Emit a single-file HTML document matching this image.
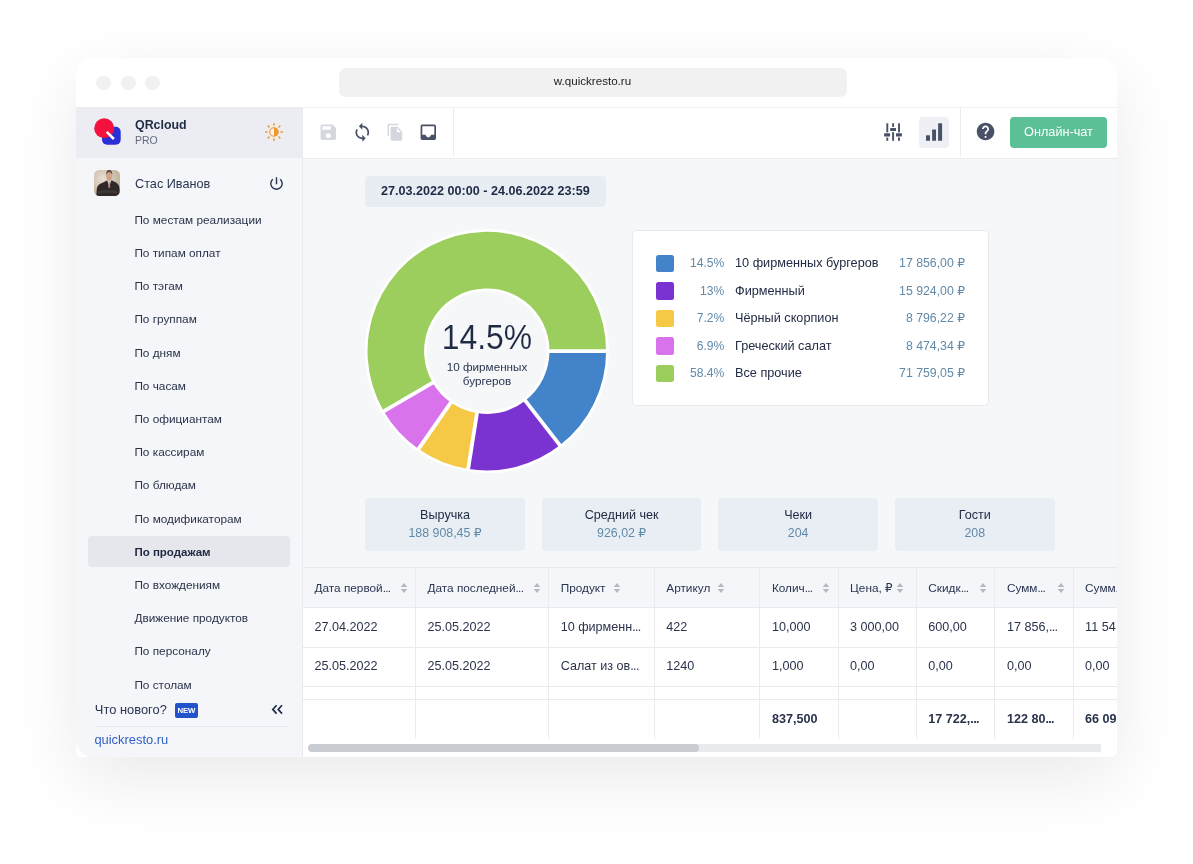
<!DOCTYPE html>
<html lang="ru">
<head>
<meta charset="utf-8">
<title>QRcloud</title>
<style>
*{box-sizing:border-box;margin:0;padding:0}
html,body{width:1193px;height:864px;overflow:hidden;background:#fff;font-family:"Liberation Sans","DejaVu Sans",sans-serif;color:#1f2a44}
#shadow{position:absolute;left:76px;top:58px;width:1041px;height:699px;border-radius:18px 18px 6px 6px;box-shadow:0 22px 70px rgba(0,0,0,.085)}
#win{position:absolute;left:76px;top:58px;width:1041px;height:699px;background:#fff;border-radius:18px 18px 6px 6px;overflow:hidden}
#pg{position:absolute;left:-76px;top:-58px;width:1193px;height:864px}
#pg div,#pg svg,#pg span{position:absolute}
.dot{top:75.5px;width:14.5px;height:14.5px;border-radius:50%;background:#f1f1f1}
.t{white-space:nowrap;line-height:1}
.mi{left:134.4px;font-size:11.8px;color:#2b3349;white-space:nowrap;line-height:14px;height:14px}
.sb{color:#6189a8}
.hc{font-size:11.8px;color:#2a3550;white-space:nowrap;line-height:14px}
.tc{font-size:12.6px;color:#2a334c;white-space:nowrap;line-height:14px}
.vl{width:1px;background:#e9ebee}
.hl{height:1px;background:#e9ebee}
</style>
</head>
<body>
<div id="shadow"></div>
<div id="win"><div id="pg">

<div class="dot" style="left:96.2px"></div>
<div class="dot" style="left:121px"></div>
<div class="dot" style="left:145.2px"></div>
<div class="t" style="left:338.5px;top:67.5px;width:508px;height:29.5px;border-radius:7px;background:#f1f1f1;text-align:center;font-size:11.6px;line-height:26.4px;color:#222">w.quickresto.ru</div>
<div style="left:76px;top:107px;width:226px;height:650px;background:#f4f6fa;border-radius:0 0 0 18px"></div>
<div style="left:76px;top:107px;width:226px;height:50.5px;background:#ecedf3"></div>
<svg style="left:92px;top:116px" width="32" height="32" viewBox="0 0 32 32"><rect x="10" y="10.8" width="18.7" height="18" rx="5" fill="#2b2fd6"/><circle cx="12.2" cy="12.2" r="10" fill="#f4113d"/><path d="M14.7 15.8L21.9 23" stroke="#fff" stroke-width="2.5"/></svg>
<div class="t" style="left:135px;top:118.9px;font-size:12.4px;font-weight:700;color:#1f2a44">QRcloud</div>
<div class="t" style="left:135px;top:134.9px;font-size:10.5px;color:#656c7c">PRO</div>
<svg style="left:264.45px;top:122.3px" width="20" height="20" viewBox="-10 -10 20 20"><circle r="9.3" fill="#fdebd3" opacity=".35"/><g stroke="#dc9a52" stroke-width="1.5" stroke-linecap="round"><path d="M7.00 0.00L8.30 0.00"/><path d="M4.95 4.95L5.87 5.87"/><path d="M0.00 7.00L0.00 8.30"/><path d="M-4.95 4.95L-5.87 5.87"/><path d="M-7.00 0.00L-8.30 0.00"/><path d="M-4.95 -4.95L-5.87 -5.87"/><path d="M-0.00 -7.00L-0.00 -8.30"/><path d="M4.95 -4.95L5.87 -5.87"/></g><circle r="4.2" fill="#fdf3e6" stroke="#e0954a" stroke-width="1.1"/><path d="M0 -4.3A4.3 4.3 0 0 1 0 4.3Z" fill="#f0982c"/></svg>
<svg style="left:94.2px;top:170px;border-radius:5.5px" width="26" height="26" viewBox="0 0 26 26"><defs><radialGradient id="abg" cx=".35" cy=".35" r=".75"><stop offset="0" stop-color="#e9e1d6"/><stop offset="1" stop-color="#bdab95"/></radialGradient></defs><rect width="26" height="26" fill="url(#abg)"/><path d="M2.3 26L2.8 18.5Q3.6 14.6 8.5 12.8L13 10.4L18 10.4L22 12.4Q25 14 25.4 18L26 26Z" fill="#2f2927"/><path d="M13.2 10.2L15.2 16.4L17.3 10.2Z" fill="#e6d9d3"/><path d="M14.75 11.4h.95l.5 5.6-.97 1.3-.97-1.3z" fill="#c48a90"/><ellipse cx="15.2" cy="5.7" rx="3" ry="4.7" fill="#cfa48a"/><path d="M12.1 4.8Q11.9 0 15.2 0Q18.5 0 18.3 4.8Q17.4 1.9 15.2 1.9Q13 1.9 12.1 4.8Z" fill="#5c4638"/><path d="M4 21.6Q13 18.6 23.2 21.4L23.2 23.8Q13 21.6 4 24Z" fill="#403836"/></svg>
<div class="t" style="left:135px;top:178px;font-size:12.7px;color:#2a3550">Стас Иванов</div>
<svg style="left:268.1px;top:174.9px" width="17" height="17" viewBox="0 0 24 24"><path fill="#2a3550" d="M13 3h-2v10h2V3zm4.83 2.17l-1.42 1.42C17.99 7.86 19 9.81 19 12c0 3.87-3.13 7-7 7s-7-3.13-7-7c0-2.19 1.01-4.14 2.58-5.42L6.17 5.17C4.23 6.82 3 9.26 3 12c0 4.97 4.03 9 9 9s9-4.03 9-9c0-2.74-1.23-5.18-3.17-6.83z"/></svg>
<div style="left:88px;top:536.3px;width:202px;height:30.5px;border-radius:4px;background:#e5e7ec"></div>
<div class="mi" style="top:212.7px">По местам реализации</div>
<div class="mi" style="top:245.9px">По типам оплат</div>
<div class="mi" style="top:279.1px">По тэгам</div>
<div class="mi" style="top:312.2px">По группам</div>
<div class="mi" style="top:345.5px">По дням</div>
<div class="mi" style="top:378.6px">По часам</div>
<div class="mi" style="top:411.9px">По официантам</div>
<div class="mi" style="top:445.1px">По кассирам</div>
<div class="mi" style="top:478.2px">По блюдам</div>
<div class="mi" style="top:511.5px">По модификаторам</div>
<div class="mi" style="top:544.6px;font-weight:700;color:#1f2a44;font-size:11.5px">По продажам</div>
<div class="mi" style="top:577.9px">По вхождениям</div>
<div class="mi" style="top:611.1px">Движение продуктов</div>
<div class="mi" style="top:644.2px">По персоналу</div>
<div class="mi" style="top:677.5px">По столам</div>
<div style="left:76px;top:699px;width:226px;height:58px;background:#f4f6fa;border-radius:0 0 0 18px"></div>
<div class="t" style="left:94.8px;top:704px;font-size:12.9px;color:#2a3550">Что нового?</div>
<div class="t" style="left:174.6px;top:703px;width:23.6px;height:14.7px;border-radius:2px;background:#2253c9;color:#fff;font-size:7.8px;font-weight:700;line-height:15.4px;text-align:center;letter-spacing:-.2px">NEW</div>
<svg style="left:271.2px;top:704.2px" width="13" height="11" viewBox="0 0 13 11"><path d="M5.6 1.2L1.8 5.4L5.6 9.6M11 1.2L7.2 5.4L11 9.6" fill="none" stroke="#1f2a44" stroke-width="1.7"/></svg>
<div class="hl" style="left:95px;top:726.4px;width:193px;background:#e6e9ee"></div>
<div class="t" style="left:94.4px;top:733.6px;font-size:12.9px;color:#2f5fc4">quickresto.ru</div>
<div style="left:302px;top:107px;width:815px;height:650px;background:#f5f7f9"></div>
<div style="left:302px;top:107px;width:815px;height:52px;background:#fff;border-top:1px solid #efeff1;border-bottom:1px solid #e9eaec"></div>
<div class="vl" style="left:302px;top:107px;height:650px;background:#e8eaed"></div>
<div class="vl" style="left:453px;top:108px;height:49px;background:#eaecf0"></div>
<div class="vl" style="left:959.5px;top:108px;height:49px;background:#eaecf0"></div>
<svg style="left:317.7px;top:121.7px" width="20.6" height="20.6" viewBox="0 0 24 24"><path fill="#d4d7dd" d="M17 3H5c-1.11 0-2 .9-2 2v14c0 1.1.89 2 2 2h14c1.1 0 2-.9 2-2V7l-4-4zm-5 16c-1.66 0-3-1.34-3-3s1.34-3 3-3 3 1.34 3 3-1.34 3-3 3zm3-10H5V5h10v4z"/></svg>
<svg style="left:351.5px;top:121.7px" width="20.6" height="20.6" viewBox="0 0 24 24"><path fill="#495167" d="M12 4V1L8 5l4 4V6c3.31 0 6 2.69 6 6 0 1.01-.25 1.97-.7 2.8l1.46 1.46C19.54 15.03 20 13.57 20 12c0-4.42-3.58-8-8-8zm0 14c-3.31 0-6-2.69-6-6 0-1.01.25-1.97.7-2.8L5.24 7.74C4.46 8.97 4 10.43 4 12c0 4.42 3.58 8 8 8v3l4-4-4-4v3z"/></svg>
<svg style="left:385.8px;top:122.8px" width="18.5" height="18.5" viewBox="0 0 24 24"><path fill="#d4d7dd" d="M16 1H4c-1.1 0-2 .9-2 2v14h2V3h12V1zm-1 4l6 6v10c0 1.1-.9 2-2 2H7.99C6.89 23 6 22.1 6 21l.01-14c0-1.1.89-2 1.99-2h7zm-1 7h5.5L14 6.5V12z"/></svg>
<svg style="left:417.7px;top:121.7px" width="20.6" height="20.6" viewBox="0 0 24 24"><path fill="#495167" d="M19 3H4.99c-1.11 0-1.98.89-1.98 2L3 19c0 1.1.88 2 1.99 2H19c1.1 0 2-.9 2-2V5c0-1.11-.9-2-2-2zm0 12h-4c0 1.66-1.35 3-3 3s-3-1.34-3-3H4.99V5H19v10z"/></svg>
<svg style="left:880px;top:120px" width="26" height="24" viewBox="0 0 26 24"><g fill="#495167"><rect x="6.35" y="3.30" width="1.90" height="9.00" rx="0"/><rect x="4.10" y="13.30" width="6.00" height="3.10" rx="0.4"/><rect x="6.35" y="17.50" width="1.90" height="3.30" rx="0"/><rect x="12.15" y="3.30" width="1.90" height="3.60" rx="0"/><rect x="10.20" y="7.90" width="5.80" height="3.20" rx="0.4"/><rect x="12.15" y="12.10" width="1.90" height="8.70" rx="0"/><rect x="18.05" y="3.30" width="1.90" height="9.00" rx="0"/><rect x="16.00" y="13.30" width="5.90" height="3.10" rx="0.4"/><rect x="18.05" y="17.50" width="1.90" height="3.30" rx="0"/></g></svg>
<div style="left:918.5px;top:116.7px;width:30.9px;height:31.3px;border-radius:4px;background:#eef0f5"></div>
<svg style="left:920px;top:120px" width="26" height="24" viewBox="0 0 26 24"><g fill="#495167"><path d="M6 15.9q0-.6.6-.6h2.8q.6 0 .6.6V20.8H6z"/><path d="M12.1 10.2q0-.6.6-.6h2.7q.6 0 .6.6V20.8h-3.9z"/><path d="M18.1 3.9q0-.6.6-.6h2.8q.6 0 .6.6V20.8h-4z"/></g></svg>
<svg style="left:974.9px;top:121.1px" width="21.1" height="21.1" viewBox="0 0 24 24"><path fill="#495167" d="M12 2C6.48 2 2 6.48 2 12s4.48 10 10 10 10-4.48 10-10S17.52 2 12 2zm1 17h-2v-2h2v2zm2.07-7.750l-.9.92C13.45 12.9 13 13.5 13 15h-2v-.5c0-1.1.45-2.1 1.17-2.83l1.24-1.26c.37-.36.59-.86.59-1.41 0-1.1-.9-2-2-2s-2 .9-2 2H8c0-2.21 1.79-4 4-4s4 1.79 4 4c0 .88-.36 1.68-.93 2.25z"/></svg>
<div class="t" style="left:1010px;top:116.5px;width:97px;height:31px;border-radius:4px;background:#5bc095;color:#fff;font-size:12.7px;line-height:31px;text-align:center">Онлайн-чат</div>
<div class="t" style="left:365.2px;top:175.6px;width:240.4px;height:31px;border-radius:4px;background:#e8edf4;color:#1f2a44;font-size:12.6px;font-weight:700;line-height:31px;text-align:center">27.03.2022 00:00 - 24.06.2022 23:59</div>
<svg style="left:0;top:0" width="1193" height="864" viewBox="0 0 1193 864"><circle cx="486.8" cy="351.1" r="90.9" fill="none" stroke="#fff" stroke-width="62.2"/><path d="M606.10 351.10A119.3 119.3 0 0 1 559.92 445.37L525.23 400.64A62.7 62.7 0 0 0 549.50 351.10Z" fill="#4283c9"/><path d="M559.92 445.37A119.3 119.3 0 0 1 468.14 468.93L476.99 413.03A62.7 62.7 0 0 0 525.23 400.64Z" fill="#7a33d1"/><path d="M468.14 468.93A119.3 119.3 0 0 1 418.51 448.92L450.91 402.51A62.7 62.7 0 0 0 476.99 413.03Z" fill="#f5c945"/><path d="M418.51 448.92A119.3 119.3 0 0 1 383.73 411.18L432.63 382.68A62.7 62.7 0 0 0 450.91 402.51Z" fill="#d873ec"/><path d="M383.73 411.18A119.3 119.3 0 1 1 606.10 351.10L549.50 351.10A62.7 62.7 0 1 0 432.63 382.68Z" fill="#9bce5c"/><path d="M547.30 351.10L607.80 351.10" stroke="#fff" stroke-width="3.8"/><path d="M523.88 398.90L560.96 446.71" stroke="#fff" stroke-width="3.8"/><path d="M477.34 410.86L467.87 470.61" stroke="#fff" stroke-width="3.8"/><path d="M452.17 400.71L417.54 450.31" stroke="#fff" stroke-width="3.8"/><path d="M434.53 381.57L382.27 412.04" stroke="#fff" stroke-width="3.8"/></svg>
<div class="t" style="left:387px;top:320.2px;width:200px;text-align:center;font-size:34.8px;color:#1f2a44;-webkit-text-stroke:0.1px #f5f7f9;transform:scaleX(.915)">14.5%</div>
<div class="t" style="left:387px;top:360.4px;width:200px;text-align:center;font-size:11.7px;color:#2a3550;line-height:13.5px;white-space:normal">10 фирменных<br>бургеров</div>
<div style="left:632px;top:230px;width:357px;height:176px;border-radius:5px;background:#fff;border:1px solid #e6e9ee"></div>
<div style="left:656.4px;top:254.8px;width:17.5px;height:17.4px;border-radius:2.5px;background:#4283c9"></div>
<div class="t sb" style="left:664px;top:256.95px;width:60.3px;text-align:right;font-size:12.1px">14.5%</div>
<div class="t" style="left:735px;top:256.65px;font-size:12.7px;color:#222c45">10 фирменных бургеров</div>
<div class="t sb" style="left:865px;top:256.85px;width:100px;text-align:right;font-size:12.3px">17 856,00 ₽</div>
<div style="left:656.4px;top:282.3px;width:17.5px;height:17.4px;border-radius:2.5px;background:#7a33d1"></div>
<div class="t sb" style="left:664px;top:284.95px;width:60.3px;text-align:right;font-size:12.1px">13%</div>
<div class="t" style="left:735px;top:284.65px;font-size:12.7px;color:#222c45">Фирменный</div>
<div class="t sb" style="left:865px;top:284.85px;width:100px;text-align:right;font-size:12.3px">15 924,00 ₽</div>
<div style="left:656.4px;top:309.8px;width:17.5px;height:17.4px;border-radius:2.5px;background:#f5c945"></div>
<div class="t sb" style="left:664px;top:311.95px;width:60.3px;text-align:right;font-size:12.1px">7.2%</div>
<div class="t" style="left:735px;top:311.65px;font-size:12.7px;color:#222c45">Чёрный скорпион</div>
<div class="t sb" style="left:865px;top:311.85px;width:100px;text-align:right;font-size:12.3px">8 796,22 ₽</div>
<div style="left:656.4px;top:337.3px;width:17.5px;height:17.4px;border-radius:2.5px;background:#d873ec"></div>
<div class="t sb" style="left:664px;top:339.95px;width:60.3px;text-align:right;font-size:12.1px">6.9%</div>
<div class="t" style="left:735px;top:339.65px;font-size:12.7px;color:#222c45">Греческий салат</div>
<div class="t sb" style="left:865px;top:339.85px;width:100px;text-align:right;font-size:12.3px">8 474,34 ₽</div>
<div style="left:656.4px;top:364.8px;width:17.5px;height:17.4px;border-radius:2.5px;background:#9bce5c"></div>
<div class="t sb" style="left:664px;top:366.95px;width:60.3px;text-align:right;font-size:12.1px">58.4%</div>
<div class="t" style="left:735px;top:366.65px;font-size:12.7px;color:#222c45">Все прочие</div>
<div class="t sb" style="left:865px;top:366.85px;width:100px;text-align:right;font-size:12.3px">71 759,05 ₽</div>
<div style="left:365.3px;top:497.5px;width:159.5px;height:53px;border-radius:4px;background:#e9eef5"></div>
<div class="t" style="left:365.3px;top:508.7px;width:159.5px;text-align:center;font-size:12.6px;color:#222c45">Выручка</div>
<div class="t sb" style="left:365.3px;top:526.9px;width:159.5px;text-align:center;font-size:12.4px">188 908,45 ₽</div>
<div style="left:541.9px;top:497.5px;width:159.5px;height:53px;border-radius:4px;background:#e9eef5"></div>
<div class="t" style="left:541.9px;top:508.7px;width:159.5px;text-align:center;font-size:12.6px;color:#222c45">Средний чек</div>
<div class="t sb" style="left:541.9px;top:526.9px;width:159.5px;text-align:center;font-size:12.4px">926,02 ₽</div>
<div style="left:718.4px;top:497.5px;width:159.5px;height:53px;border-radius:4px;background:#e9eef5"></div>
<div class="t" style="left:718.4px;top:508.7px;width:159.5px;text-align:center;font-size:12.6px;color:#222c45">Чеки</div>
<div class="t sb" style="left:718.4px;top:526.9px;width:159.5px;text-align:center;font-size:12.4px">204</div>
<div style="left:895.0px;top:497.5px;width:159.5px;height:53px;border-radius:4px;background:#e9eef5"></div>
<div class="t" style="left:895.0px;top:508.7px;width:159.5px;text-align:center;font-size:12.6px;color:#222c45">Гости</div>
<div class="t sb" style="left:895.0px;top:526.9px;width:159.5px;text-align:center;font-size:12.4px">208</div>
<div style="left:303px;top:567px;width:814px;height:41px;background:#f4f6fa;border-top:1px solid #e6e9ee;border-bottom:1px solid #e6e9ee"></div>
<div style="left:303px;top:607.5px;width:814px;height:150px;background:#fff"></div>
<div class="hl" style="left:303px;top:646.7px;width:814px"></div>
<div class="hl" style="left:303px;top:686px;width:814px"></div>
<div class="hl" style="left:303px;top:698.8px;width:814px"></div>
<div class="vl" style="left:415px;top:568px;height:171px"></div>
<div class="vl" style="left:548.2px;top:568px;height:171px"></div>
<div class="vl" style="left:653.8px;top:568px;height:171px"></div>
<div class="vl" style="left:759.4px;top:568px;height:171px"></div>
<div class="vl" style="left:837.6px;top:568px;height:171px"></div>
<div class="vl" style="left:915.8px;top:568px;height:171px"></div>
<div class="vl" style="left:994.4px;top:568px;height:171px"></div>
<div class="vl" style="left:1072.6px;top:568px;height:171px"></div>
<div class="hc" style="left:314.5px;top:581px">Дата первой<span style="position:static;letter-spacing:-.7px">...</span></div>
<svg style="left:399.8px;top:581.5px" width="8" height="12" viewBox="0 0 8 12"><path d="M4 1L7.3 5H.7zM4 11L7.3 7H.7z" fill="#b4b8c1"/></svg>
<div class="hc" style="left:427.5px;top:581px">Дата последней<span style="position:static;letter-spacing:-.7px">...</span></div>
<svg style="left:532.6px;top:581.5px" width="8" height="12" viewBox="0 0 8 12"><path d="M4 1L7.3 5H.7zM4 11L7.3 7H.7z" fill="#b4b8c1"/></svg>
<div class="hc" style="left:560.7px;top:581px">Продукт</div>
<svg style="left:613px;top:581.5px" width="8" height="12" viewBox="0 0 8 12"><path d="M4 1L7.3 5H.7zM4 11L7.3 7H.7z" fill="#b4b8c1"/></svg>
<div class="hc" style="left:666.3px;top:581px">Артикул</div>
<svg style="left:717px;top:581.5px" width="8" height="12" viewBox="0 0 8 12"><path d="M4 1L7.3 5H.7zM4 11L7.3 7H.7z" fill="#b4b8c1"/></svg>
<div class="hc" style="left:771.9px;top:581px">Колич<span style="position:static;letter-spacing:-.7px">...</span></div>
<svg style="left:822.3px;top:581.5px" width="8" height="12" viewBox="0 0 8 12"><path d="M4 1L7.3 5H.7zM4 11L7.3 7H.7z" fill="#b4b8c1"/></svg>
<div class="hc" style="left:850.1px;top:581px">Цена, ₽</div>
<svg style="left:896px;top:581.5px" width="8" height="12" viewBox="0 0 8 12"><path d="M4 1L7.3 5H.7zM4 11L7.3 7H.7z" fill="#b4b8c1"/></svg>
<div class="hc" style="left:928.3px;top:581px">Скидк<span style="position:static;letter-spacing:-.7px">...</span></div>
<svg style="left:978.7px;top:581.5px" width="8" height="12" viewBox="0 0 8 12"><path d="M4 1L7.3 5H.7zM4 11L7.3 7H.7z" fill="#b4b8c1"/></svg>
<div class="hc" style="left:1006.9px;top:581px">Сумм<span style="position:static;letter-spacing:-.7px">...</span></div>
<svg style="left:1056.8px;top:581.5px" width="8" height="12" viewBox="0 0 8 12"><path d="M4 1L7.3 5H.7zM4 11L7.3 7H.7z" fill="#b4b8c1"/></svg>
<div class="hc" style="left:1085.1px;top:581px">Сумм<span style="position:static;letter-spacing:-.7px">...</span></div>
<div class="tc" style="left:314.5px;top:620.1px">27.04.2022</div>
<div class="tc" style="left:427.5px;top:620.1px">25.05.2022</div>
<div class="tc" style="left:560.7px;top:620.1px">10 фирменн<span style="position:static;letter-spacing:-.7px">...</span></div>
<div class="tc" style="left:666.3px;top:620.1px">422</div>
<div class="tc" style="left:771.9px;top:620.1px">10,000</div>
<div class="tc" style="left:850.1px;top:620.1px">3 000,00</div>
<div class="tc" style="left:928.3px;top:620.1px">600,00</div>
<div class="tc" style="left:1006.9px;top:620.1px">17 856,<span style="position:static;letter-spacing:-.7px">...</span></div>
<div class="tc" style="left:1085.1px;top:620.1px">11 54</div>
<div class="tc" style="left:314.5px;top:658.9px">25.05.2022</div>
<div class="tc" style="left:427.5px;top:658.9px">25.05.2022</div>
<div class="tc" style="left:560.7px;top:658.9px">Салат из ов<span style="position:static;letter-spacing:-.7px">...</span></div>
<div class="tc" style="left:666.3px;top:658.9px">1240</div>
<div class="tc" style="left:771.9px;top:658.9px">1,000</div>
<div class="tc" style="left:850.1px;top:658.9px">0,00</div>
<div class="tc" style="left:928.3px;top:658.9px">0,00</div>
<div class="tc" style="left:1006.9px;top:658.9px">0,00</div>
<div class="tc" style="left:1085.1px;top:658.9px">0,00</div>
<div class="tc" style="left:771.9px;top:711.8px;font-weight:700">837,500</div>
<div class="tc" style="left:928.3px;top:711.8px;font-weight:700">17 722,<span style="position:static;letter-spacing:-.7px">...</span></div>
<div class="tc" style="left:1006.9px;top:711.8px;font-weight:700">122 80<span style="position:static;letter-spacing:-.7px">...</span></div>
<div class="tc" style="left:1085.1px;top:711.8px;font-weight:700">66 09</div>
<div style="left:308.3px;top:744px;width:793.1px;height:7.5px;border-radius:4px 0 0 4px;background:#e8eaed"></div>
<div style="left:308.3px;top:744px;width:390.4px;height:7.5px;border-radius:4px;background:#c9ccd1"></div>
</div></div>
</body>
</html>
